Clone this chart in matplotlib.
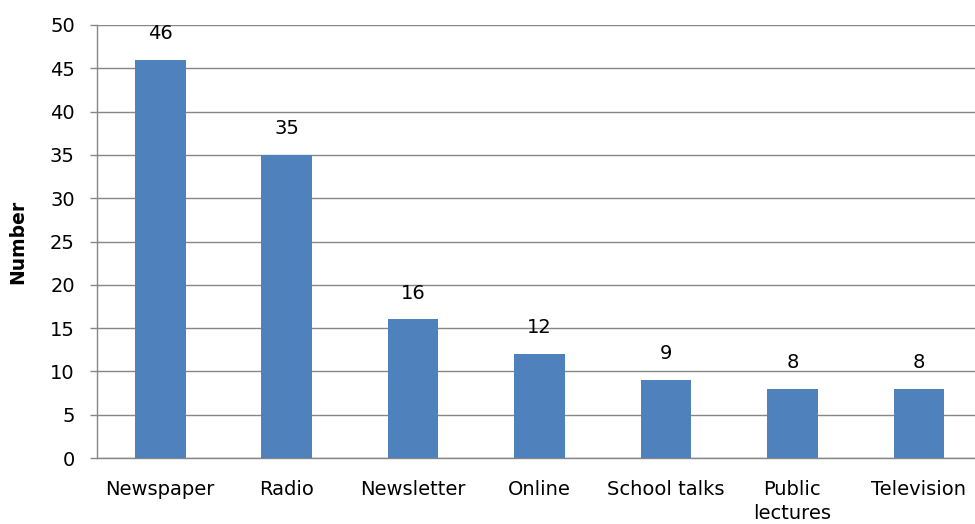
import matplotlib.pyplot as plt
import numpy as np

# Data
categories = ['Newspaper', 'Radio', 'Newsletter', 'Online', 'School talks', 'Public\nlectures', 'Television']
counts = [46, 35, 16, 12, 9, 8, 8]
y_ticks = list(range(0, 51, 5))

bar_color = '#4F81BD'
grid_color = '#868686'

plt.rcParams['font.family'] = ['DejaVu Sans']

fig = plt.figure(figsize=(9.75, 5.24), dpi=100)
# plot area runs a little past the right edge of the picture, like the original
ax = fig.add_axes([97 / 975, 1 - 458 / 524, 885 / 975, (458 - 25) / 524])

x = np.arange(len(categories))
ax.bar(x, counts, width=0.4, color=bar_color, zorder=3)

for xi, v in zip(x, counts):
    ax.annotate(str(v), (xi, v), xytext=(0, 12), textcoords='offset points',
                ha='center', va='bottom', fontsize=14, color='black')

ax.set_xlim(-0.5, len(categories) - 0.5)
ax.set_ylim(0, 50)
ax.set_yticks(y_ticks)
ax.set_xticks(x)
ax.set_xticklabels(categories, fontsize=14, linespacing=1.35)
ax.tick_params(axis='y', labelsize=14, length=5, width=1, color=grid_color, pad=11)
ax.tick_params(axis='x', length=0, pad=16)

ax.yaxis.grid(True, color=grid_color, linewidth=1, zorder=0)
ax.set_axisbelow(True)
for side in ['top', 'right']:
    ax.spines[side].set_visible(False)
for side in ['left', 'bottom']:
    ax.spines[side].set_color(grid_color)
    ax.spines[side].set_linewidth(1)

ax.set_ylabel('Number', fontsize=13.5, fontweight='bold', labelpad=16)

fig.savefig('out.png', dpi=100)
